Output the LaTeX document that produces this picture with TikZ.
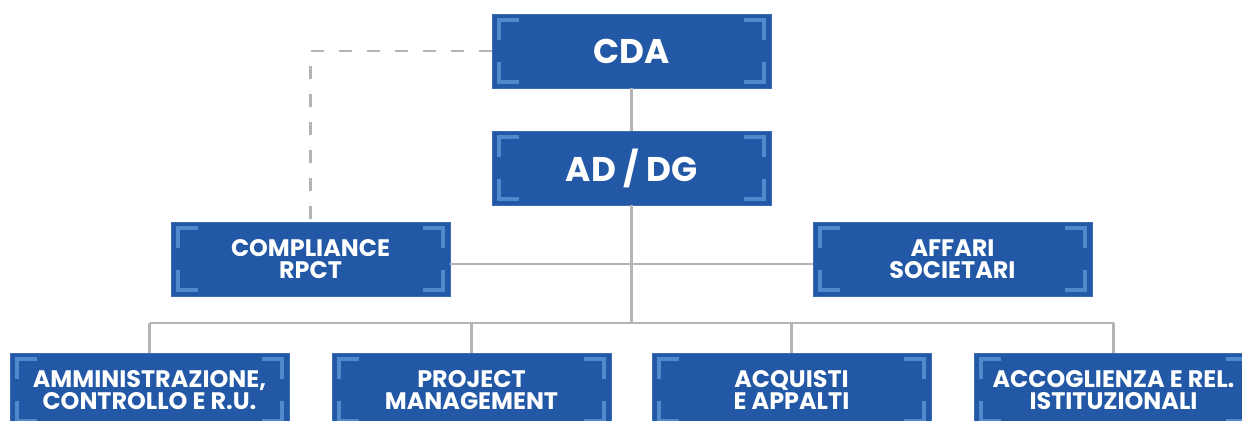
\documentclass[tikz,border=0pt]{standalone}
\usepackage{fontspec}
\setmainfont{Poppins}
\usepackage{xcolor}
\usepackage{tikz}
\usetikzlibrary{positioning}
\definecolor{boxblue}{HTML}{2258A5}
\definecolor{boxedge}{HTML}{3A6DB5}
\definecolor{cornerblue}{HTML}{5089CC}
\definecolor{linkgray}{HTML}{B4B4B4}

\begin{document}
\begin{tikzpicture}[x=0.02cm, y=-0.02cm,
    orgbox/.style={fill=boxblue, draw=boxedge, line width=0.5pt,
        minimum width=5.58cm, minimum height=1.48cm, inner sep=0pt,
        text=white, font=\bfseries, align=center,
        path picture={
            \draw[cornerblue, line width=0.08cm]
                ([shift={(0.14cm,-0.52cm)}]path picture bounding box.north west) -- ++(0,0.4cm) -- ++(0.4cm,0)
                ([shift={(-0.14cm,-0.52cm)}]path picture bounding box.north east) -- ++(0,0.4cm) -- ++(-0.4cm,0)
                ([shift={(0.14cm,0.52cm)}]path picture bounding box.south west) -- ++(0,-0.4cm) -- ++(0.4cm,0)
                ([shift={(-0.14cm,0.52cm)}]path picture bounding box.south east) -- ++(0,-0.4cm) -- ++(-0.4cm,0);
        }},
    big/.style={font=\bfseries\fontsize{19.5}{20}\selectfont},
    small/.style={font=\bfseries\fontsize{13.6}{12.8}\selectfont},
    link/.style={linkgray, line width=0.055cm}]
    \useasboundingbox (0,0) rectangle (1242,421);

    % top of the chart
    \node[orgbox, big] (cda) at (631.5,51) {CDA};
    \node[orgbox, big] (addg) at (631.5,168) {AD / DG};

    % staff offices
    \node[orgbox, small] (compliance) at (310.5,259) {COMPLIANCE\\RPCT};
    \node[orgbox, small] (affari) at (952.5,259) {AFFARI\\SOCIETARI};

    % departments
    \node[orgbox, small] (amm) at (149.5,390) {AMMINISTRAZIONE,\\CONTROLLO E R.U.};
    \node[orgbox, small] (pm) at (471.5,390) {PROJECT\\MANAGEMENT};
    \node[orgbox, small] (acq) at (791.5,390) {ACQUISTI\\E APPALTI};
    \node[orgbox, small] (acc) at (1113.5,390) {ACCOGLIENZA E REL.\\ISTITUZIONALI};

    % links
    \coordinate (bus) at (631.5,323);
    \draw[link] (cda) -- (addg);
    \draw[link] (addg) -- (bus);
    \draw[link] ([yshift=-0.1cm]compliance.east) -- ([yshift=-0.1cm]affari.west);
    \draw[link] (amm.north |- bus) -- (acc.north |- bus);
    \foreach \d in {amm,pm,acq,acc} {
        \draw[link] (\d.north |- bus) -- (\d.north);
    }
    \draw[link, dash pattern=on 0.26cm off 0.3cm] (cda.west) -| (compliance.north);
\end{tikzpicture}
\end{document}
